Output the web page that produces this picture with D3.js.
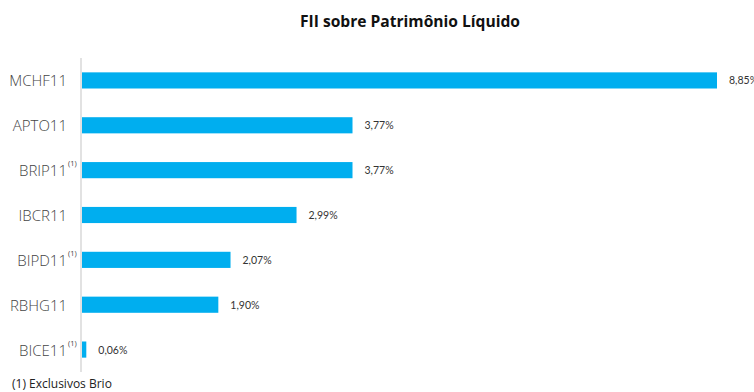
<!DOCTYPE html>
<html><head><meta charset="utf-8">
<script src="https://cdn.jsdelivr.net/npm/d3@7"></script>
<style>body{margin:0;background:#fff;}svg{display:block;}</style>
</head><body>
<script>
const categories = ["MCHF11","APTO11","BRIP11","IBCR11","BIPD11","RBHG11","BICE11"];
const values = [8.85, 3.77, 3.77, 2.99, 2.07, 1.90, 0.06];
const exclusive = [false, false, true, false, true, false, true];
const title = "FII sobre Patrimônio Líquido";
const footnote = "(1) Exclusivos Brio";

const W = 754, H = 392;
const svg = d3.select("body").append("svg").attr("width", W).attr("height", H);
const x0 = 82;
const x = d3.scaleLinear().domain([0, 8.85]).range([x0, 717]);
const y = d3.scaleBand().domain(categories).range([58, 372]).paddingInner(0.64).paddingOuter(0.32);

svg.append("text").attr("x", 410).attr("y", 27).attr("text-anchor", "middle")
  .style("font-family", "Open Sans").style("font-weight", "700").style("font-size", "15.6px")
  .attr("fill", "#111").text(title);

svg.append("line").attr("x1", 81).attr("x2", 81).attr("y1", 58).attr("y2", 372)
  .attr("stroke", "#d9d9d9").attr("stroke-width", 1.5);

svg.selectAll("rect.bar").data(categories).join("rect").attr("class", "bar")
  .attr("x", x0).attr("y", d => y(d))
  .attr("width", (d, i) => x(values[i]) - x0).attr("height", y.bandwidth())
  .attr("fill", "#00aeef");

svg.selectAll("text.val").data(categories).join("text").attr("class", "val")
  .attr("x", (d, i) => x(values[i]) + 12).attr("y", d => y(d) + y.bandwidth() / 2 + 4)
  .style("font-family", "Lato").style("font-size", "10.5px").attr("fill", "#333")
  .text((d, i) => values[i].toFixed(2).replace(".", ",") + "%");

const lab = svg.selectAll("g.lab").data(categories).join("g").attr("class", "lab");
lab.append("text").attr("x", 67).attr("y", d => y(d) + y.bandwidth() / 2 + 6)
  .attr("text-anchor", "end")
  .style("font-family", "Open Sans").style("font-weight", "300").style("font-size", "15px").attr("fill", "#444")
  .text(d => d);
lab.filter((d, i) => exclusive[i]).append("text")
  .attr("x", 68).attr("y", d => y(d) + y.bandwidth() / 2 - 4)
  .style("font-family", "Open Sans").style("font-size", "7.5px").attr("fill", "#444")
  .text("(1)");

svg.append("text").attr("x", 12).attr("y", 388)
  .style("font-family", "Open Sans").style("font-size", "12px").attr("fill", "#222")
  .text(footnote);
</script>
</body></html>
